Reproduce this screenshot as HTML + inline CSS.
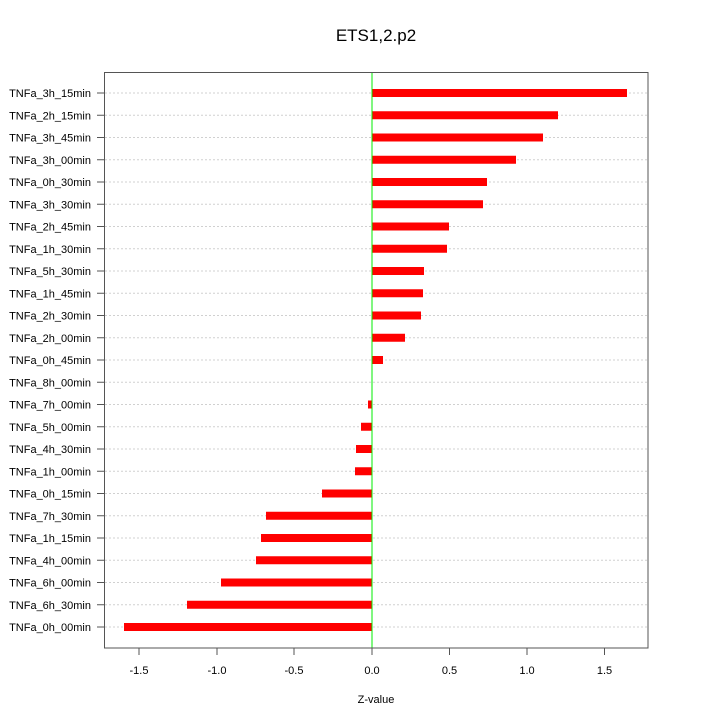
<!DOCTYPE html>
<html><head><meta charset="utf-8"><style>body{margin:0;background:#fff}svg{display:block}</style></head><body>
<svg width="720" height="720" xmlns="http://www.w3.org/2000/svg" font-family="Liberation Sans, sans-serif">
<text x="376" y="41" font-size="17" text-anchor="middle">ETS1,2.p2</text>
<g stroke="#d0d0d0" stroke-width="1" stroke-dasharray="2,2">
<line x1="105" x2="648" y1="93" y2="93"/><line x1="105" x2="648" y1="115.25" y2="115.25"/><line x1="105" x2="648" y1="137.5" y2="137.5"/><line x1="105" x2="648" y1="159.75" y2="159.75"/><line x1="105" x2="648" y1="182" y2="182"/><line x1="105" x2="648" y1="204.25" y2="204.25"/><line x1="105" x2="648" y1="226.5" y2="226.5"/><line x1="105" x2="648" y1="248.75" y2="248.75"/><line x1="105" x2="648" y1="271" y2="271"/><line x1="105" x2="648" y1="293.25" y2="293.25"/><line x1="105" x2="648" y1="315.5" y2="315.5"/><line x1="105" x2="648" y1="337.75" y2="337.75"/><line x1="105" x2="648" y1="360" y2="360"/><line x1="105" x2="648" y1="382.25" y2="382.25"/><line x1="105" x2="648" y1="404.5" y2="404.5"/><line x1="105" x2="648" y1="426.75" y2="426.75"/><line x1="105" x2="648" y1="449" y2="449"/><line x1="105" x2="648" y1="471.25" y2="471.25"/><line x1="105" x2="648" y1="493.5" y2="493.5"/><line x1="105" x2="648" y1="515.75" y2="515.75"/><line x1="105" x2="648" y1="538" y2="538"/><line x1="105" x2="648" y1="560.25" y2="560.25"/><line x1="105" x2="648" y1="582.5" y2="582.5"/><line x1="105" x2="648" y1="604.75" y2="604.75"/><line x1="105" x2="648" y1="627" y2="627"/>
</g>
<g fill="#ff0000">
<rect x="372" y="89" width="255" height="8"/>
<rect x="372" y="111.25" width="186" height="8"/>
<rect x="372" y="133.5" width="171" height="8"/>
<rect x="372" y="155.75" width="144" height="8"/>
<rect x="372" y="178" width="115" height="8"/>
<rect x="372" y="200.25" width="111" height="8"/>
<rect x="372" y="222.5" width="77" height="8"/>
<rect x="372" y="244.75" width="75" height="8"/>
<rect x="372" y="267" width="52" height="8"/>
<rect x="372" y="289.25" width="51" height="8"/>
<rect x="372" y="311.5" width="49" height="8"/>
<rect x="372" y="333.75" width="33" height="8"/>
<rect x="372" y="356" width="11" height="8"/>
<rect x="368" y="400.5" width="4" height="8"/>
<rect x="361" y="422.75" width="11" height="8"/>
<rect x="356" y="445" width="16" height="8"/>
<rect x="355" y="467.25" width="17" height="8"/>
<rect x="322" y="489.5" width="50" height="8"/>
<rect x="266" y="511.75" width="106" height="8"/>
<rect x="261" y="534" width="111" height="8"/>
<rect x="256" y="556.25" width="116" height="8"/>
<rect x="221" y="578.5" width="151" height="8"/>
<rect x="187" y="600.75" width="185" height="8"/>
<rect x="124" y="623" width="248" height="8"/>
</g>
<line x1="372" x2="372" y1="72" y2="648" stroke="#00ee00" stroke-width="1"/>
<rect x="104.5" y="72.5" width="543.5" height="575.5" fill="none" stroke="#555" stroke-width="1"/>
<g stroke="#555">
<line x1="139" x2="139" y1="648" y2="655"/><line x1="217" x2="217" y1="648" y2="655"/><line x1="294" x2="294" y1="648" y2="655"/><line x1="372" x2="372" y1="648" y2="655"/><line x1="449.5" x2="449.5" y1="648" y2="655"/><line x1="527" x2="527" y1="648" y2="655"/><line x1="604.5" x2="604.5" y1="648" y2="655"/>
</g>
<g font-size="11" text-anchor="middle">
<text x="139" y="674">-1.5</text><text x="217" y="674">-1.0</text><text x="294" y="674">-0.5</text><text x="372" y="674">0.0</text><text x="449.5" y="674">0.5</text><text x="527" y="674">1.0</text><text x="604.5" y="674">1.5</text>
<text x="376" y="703">Z-value</text>
</g>
<g stroke="#555">
<line x1="97" x2="104" y1="93" y2="93"/><line x1="97" x2="104" y1="115.25" y2="115.25"/><line x1="97" x2="104" y1="137.5" y2="137.5"/><line x1="97" x2="104" y1="159.75" y2="159.75"/><line x1="97" x2="104" y1="182" y2="182"/><line x1="97" x2="104" y1="204.25" y2="204.25"/><line x1="97" x2="104" y1="226.5" y2="226.5"/><line x1="97" x2="104" y1="248.75" y2="248.75"/><line x1="97" x2="104" y1="271" y2="271"/><line x1="97" x2="104" y1="293.25" y2="293.25"/><line x1="97" x2="104" y1="315.5" y2="315.5"/><line x1="97" x2="104" y1="337.75" y2="337.75"/><line x1="97" x2="104" y1="360" y2="360"/><line x1="97" x2="104" y1="382.25" y2="382.25"/><line x1="97" x2="104" y1="404.5" y2="404.5"/><line x1="97" x2="104" y1="426.75" y2="426.75"/><line x1="97" x2="104" y1="449" y2="449"/><line x1="97" x2="104" y1="471.25" y2="471.25"/><line x1="97" x2="104" y1="493.5" y2="493.5"/><line x1="97" x2="104" y1="515.75" y2="515.75"/><line x1="97" x2="104" y1="538" y2="538"/><line x1="97" x2="104" y1="560.25" y2="560.25"/><line x1="97" x2="104" y1="582.5" y2="582.5"/><line x1="97" x2="104" y1="604.75" y2="604.75"/><line x1="97" x2="104" y1="627" y2="627"/>
</g>
<g font-size="11" text-anchor="end">
<text x="91" y="97">TNFa_3h_15min</text>
<text x="91" y="119.25">TNFa_2h_15min</text>
<text x="91" y="141.5">TNFa_3h_45min</text>
<text x="91" y="163.75">TNFa_3h_00min</text>
<text x="91" y="186">TNFa_0h_30min</text>
<text x="91" y="208.25">TNFa_3h_30min</text>
<text x="91" y="230.5">TNFa_2h_45min</text>
<text x="91" y="252.75">TNFa_1h_30min</text>
<text x="91" y="275">TNFa_5h_30min</text>
<text x="91" y="297.25">TNFa_1h_45min</text>
<text x="91" y="319.5">TNFa_2h_30min</text>
<text x="91" y="341.75">TNFa_2h_00min</text>
<text x="91" y="364">TNFa_0h_45min</text>
<text x="91" y="386.25">TNFa_8h_00min</text>
<text x="91" y="408.5">TNFa_7h_00min</text>
<text x="91" y="430.75">TNFa_5h_00min</text>
<text x="91" y="453">TNFa_4h_30min</text>
<text x="91" y="475.25">TNFa_1h_00min</text>
<text x="91" y="497.5">TNFa_0h_15min</text>
<text x="91" y="519.75">TNFa_7h_30min</text>
<text x="91" y="542">TNFa_1h_15min</text>
<text x="91" y="564.25">TNFa_4h_00min</text>
<text x="91" y="586.5">TNFa_6h_00min</text>
<text x="91" y="608.75">TNFa_6h_30min</text>
<text x="91" y="631">TNFa_0h_00min</text>
</g>
</svg>
</body></html>
